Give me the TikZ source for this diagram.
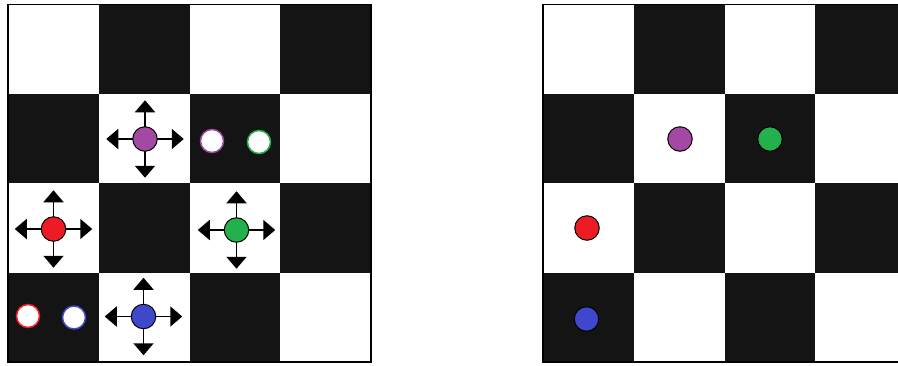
\documentclass[tikz,border=0pt]{standalone}
\usetikzlibrary{positioning,arrows.meta}
\definecolor{PaintRed}{RGB}{237,28,36}
\definecolor{PaintGreen}{RGB}{34,177,76}
\definecolor{PaintBlue}{RGB}{63,72,204}
\definecolor{PaintPurple}{RGB}{163,73,164}
\definecolor{BoardDark}{RGB}{20,20,20}

\begin{document}
\begin{tikzpicture}[
x=1pt,y=-1pt,
piece/.style={circle,draw=black,line width=1pt,minimum size=24.5pt,inner sep=0pt,outer sep=0pt},
ghost/.style={circle,fill=white,line width=1.5pt,minimum size=23pt,inner sep=0pt,outer sep=0pt},
move/.style={-{Triangle[width=20pt,length=12pt]},line width=1.8pt,draw=black}
]
\useasboundingbox[fill=white] (0,0) rectangle (898,365);
% the two boards
\foreach \ox in {8,543}{
  \foreach \r in {0,...,3}
    \foreach \c in {0,...,3}{
      \pgfmathtruncatemacro\odd{mod(\r+\c,2)}
      \ifnum\odd=1
        \fill[BoardDark] (\ox+\c*90.8,4.5+\r*89.4) rectangle ++(90.8,89.4);
      \fi
    }
  \draw[line width=1.5pt] (\ox,4.5) rectangle ++(363.2,357.6);
}
% left board: pieces with their moves
\node[piece,fill=PaintPurple] (purL) at (145,139) {};
\node[piece,fill=PaintRed] (redL) at (53.5,229) {};
\node[piece,fill=PaintGreen] (grnL) at (236.5,230) {};
\node[piece,fill=PaintBlue] (bluL) at (143.5,316.5) {};
\foreach \p in {purL,redL,grnL,bluL}
  \foreach \d in {above,below,left,right}{
    \coordinate[\d=26.5pt of \p] (\p-\d);
    \draw[move] (\p) -- (\p-\d);
  }
% left board: empty targets
\node[ghost,draw=PaintPurple] (purG) at (212,141) {};
\node[ghost,draw=PaintGreen] (grnG) at (259,142) {};
\node[ghost,draw=PaintRed] (redG) at (28,316) {};
\node[ghost,draw=PaintBlue] (bluG) at (74,317.5) {};
% right board: pieces
\node[piece,fill=PaintPurple] (purR) at (680,139) {};
\node[piece,fill=PaintGreen] (grnR) at (770,139) {};
\node[piece,fill=PaintRed] (redR) at (587,228) {};
\node[piece,fill=PaintBlue] (bluR) at (586.5,319) {};
\end{tikzpicture}
\end{document}
